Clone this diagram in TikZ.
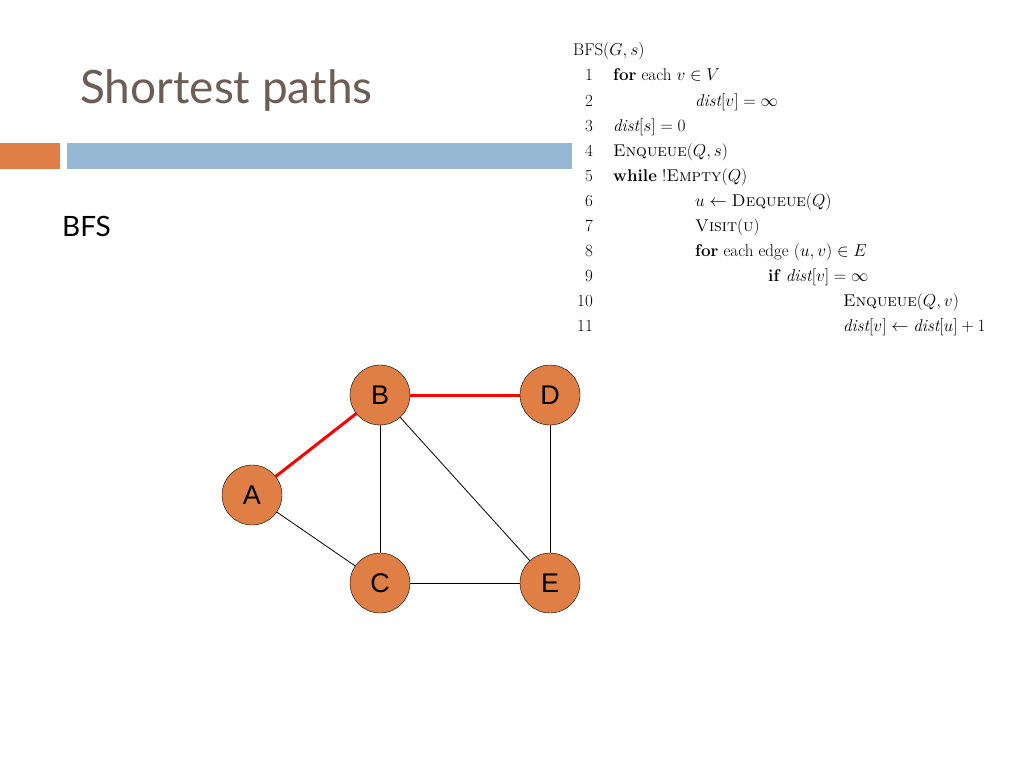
\documentclass[tikz,border=0pt]{standalone}
\usepackage{fontspec}
\usepackage{amsmath,amssymb}
\newfontfamily\titlefont{Lato}
\newfontfamily\nodefont{Liberation Sans}
\definecolor{orng}{HTML}{DF7F45}
\definecolor{bluebar}{HTML}{95B7D4}
\definecolor{titlec}{HTML}{6E5D55}
\newcommand{\kw}[1]{\textbf{#1}}
\newcommand{\scn}[1]{\textsc{#1}}
\begin{document}
\begin{tikzpicture}[x=1pt,y=-1pt,
  vert/.style={circle,draw=black,fill=orng,minimum size=60pt,inner sep=0pt,font=\nodefont\fontsize{27}{27}\selectfont},
  code/.style={anchor=base west,inner sep=0pt,font=\fontsize{17}{17}\selectfont},
  num/.style={anchor=base east,inner sep=0pt,font=\fontsize{17}{17}\selectfont},
  redge/.style={red,line width=3pt},
  bedge/.style={black,line width=0.8pt}]
\useasboundingbox (0,0) rectangle (1024,768);
\fill[white] (0,0) rectangle (1024,768);
\node[anchor=base west,inner sep=0pt,text=titlec,font=\titlefont\fontsize{46}{46}\selectfont] (title) at (80,103) {Shortest paths};
\fill[orng] (0,143) rectangle (60,169);
\fill[bluebar] (67,143) rectangle (572,169);
\node[anchor=base west,inner sep=0pt,font=\titlefont\fontsize{28}{28}\selectfont] (bfs) at (62,236) {BFS};
% pseudocode
\node[code] (h) at (573,56) {BFS$(G,s)$};
\foreach \n/\x/\t [count=\i] in {
 1/613/{\kw{for} each $v\in V$},
 2/695/{$\mathit{dist}[v]=\infty$},
 3/613/{$\mathit{dist}[s]=0$},
 4/613/{\scn{Enqueue}$(Q,s)$},
 5/613/{\kw{while} !\scn{Empty}$(Q)$},
 6/695/{$u\leftarrow\text{\scn{Dequeue}}(Q)$},
 7/695/{\scn{Visit}(\scn{u})},
 8/695/{\kw{for} each edge $(u,v)\in E$},
 9/768/{\kw{if} $\mathit{dist}[v]=\infty$},
 10/843/{\scn{Enqueue}$(Q,v)$},
 11/843/{$\mathit{dist}[v]\leftarrow\mathit{dist}[u]+1$}}
{
 \node[num] (n\i) at (593,{56+25*\i}) {\n};
 \node[code] (l\i) at (\x,{56+25*\i}) {\t};
}
% graph
\node[vert] (B) at (380,395) {B};
\node[vert] (D) at (550,395) {D};
\node[vert] (A) at (252,495) {A};
\node[vert] (C) at (380,583) {C};
\node[vert] (E) at (550,583) {E};
\begin{scope}[on background layer/.style={}]
\end{scope}
\draw[redge] (A) -- (B);
\draw[redge] (B) -- (D);
\draw[bedge] (B) -- (C);
\draw[bedge] (B) -- (E);
\draw[bedge] (D) -- (E);
\draw[bedge] (A) -- (C);
\draw[bedge] (C) -- (E);
\end{tikzpicture}
\end{document}
